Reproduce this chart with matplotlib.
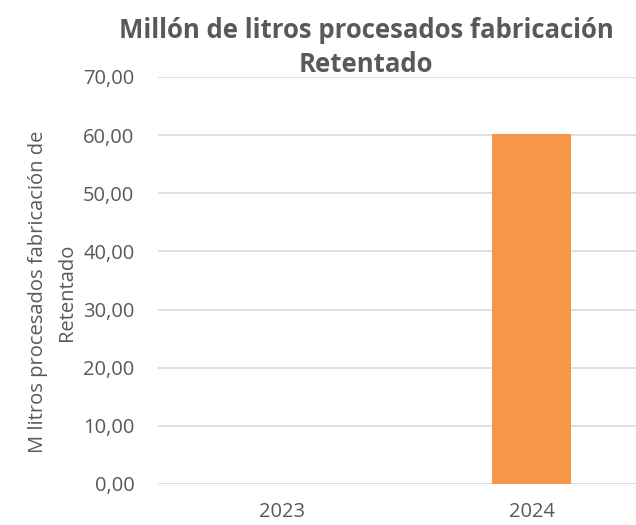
import numpy as np
import matplotlib.pyplot as plt
from matplotlib.ticker import FuncFormatter

years = ['2023', '2024']
values = [0.0, 60.2]

plt.rcParams['font.family'] = ['Open Sans', 'DejaVu Sans']
txt = '#595959'

fig = plt.figure(figsize=(6.36, 5.25), dpi=100)
# plot area runs past the right edge, as in the original crop
ax = fig.add_axes([158/636, 41/525, 498/636, 407/525])

x = np.arange(len(years))
ax.bar(x, values, width=0.32, color='#F79646', zorder=3)

ax.set_xlim(-0.5, 1.5)
ax.set_ylim(0, 70)
ax.set_yticks(np.arange(0, 71, 10))
ax.yaxis.set_major_formatter(FuncFormatter(lambda v, p: f'{v:.2f}'.replace('.', ',')))
ax.set_xticks(x)
ax.set_xticklabels(years)
ax.grid(axis='y', color='#d9d9d9', linewidth=1.2, zorder=0)
for s in ax.spines.values():
    s.set_visible(False)
ax.tick_params(length=0, labelsize=14.5, colors=txt)
ax.tick_params(axis='y', pad=17)
ax.tick_params(axis='x', pad=13)

fig.text(366/636, 1 - 30/525, 'Millón de litros procesados fabricación',
         ha='center', va='center', fontsize=18.5, fontweight='bold', color=txt)
fig.text(366/636, 1 - 64/525, 'Retentado',
         ha='center', va='center', fontsize=18.5, fontweight='bold', color=txt)

fig.text(38/636, 1 - 292/525, 'M litros procesados fabricación de',
         rotation=90, ha='center', va='center', fontsize=14.5, color=txt)
fig.text(67/636, 1 - 292/525, 'Retentado',
         rotation=90, ha='center', va='center', fontsize=14.5, color=txt)

fig.savefig('out.png', dpi=100)
